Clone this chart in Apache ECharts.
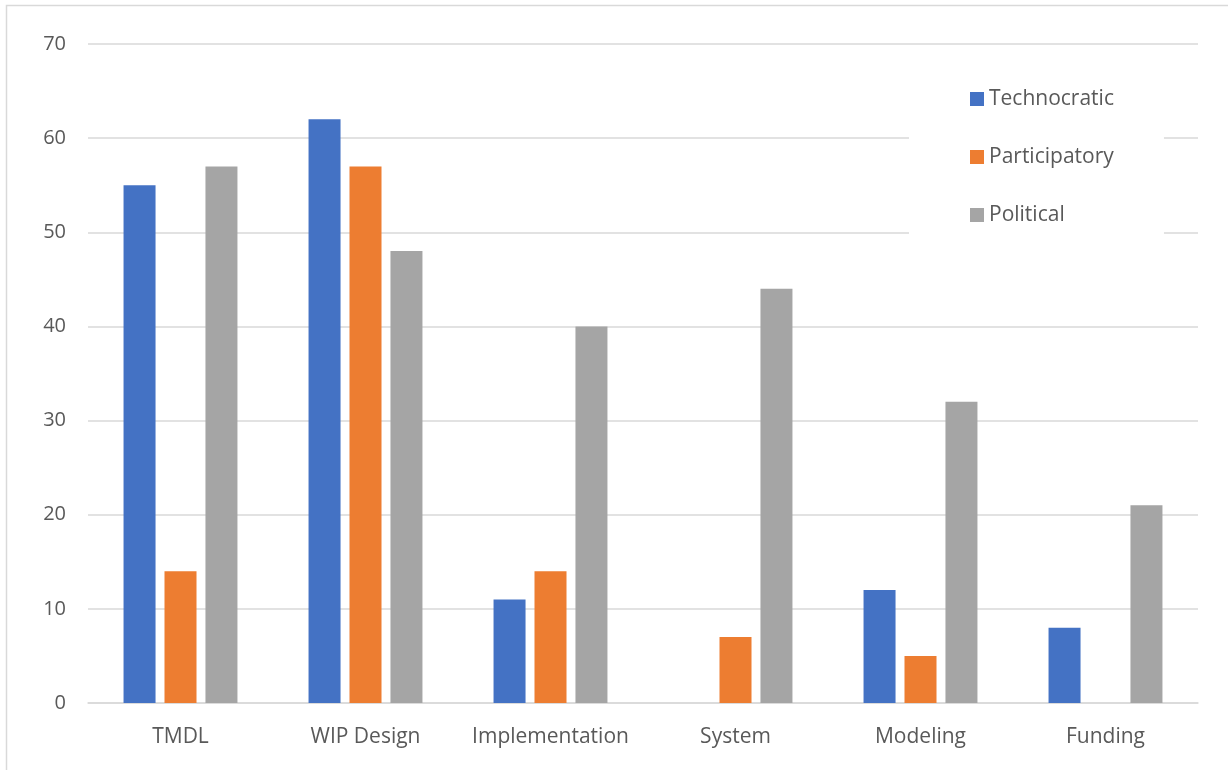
<!DOCTYPE html>
<html>
<head>
<meta charset="utf-8">
<script src="https://cdn.jsdelivr.net/npm/echarts@6/dist/echarts.min.js"></script>
<style>
  html, body { margin: 0; padding: 0; background: #fff; }
  #chart { width: 1228px; height: 770px; }
</style>
</head>
<body>
<div id="chart"></div>
<script>
// Categories of decision-making and counts per approach
const categories = ['TMDL', 'WIP Design', 'Implementation', 'System', 'Modeling', 'Funding'];
const technocratic = [55, 62, 11, 0, 12, 8];
const participatory = [14, 57, 14, 7, 5, 0];
const political = [57, 48, 40, 44, 32, 21];
const yTicks = { min: 0, max: 70, interval: 10 };

const FONT = '"Open Sans", "Noto Sans", sans-serif';
const TEXT = '#595959';

const chart = echarts.init(document.getElementById('chart'), null, { renderer: 'canvas' });

function barSeries(name, data, color) {
  return {
    name: name,
    type: 'bar',
    data: data,
    barWidth: 32,
    barGap: '28%',
    itemStyle: { color: color },
    emphasis: { disabled: true }
  };
}

chart.setOption({
  animation: false,
  backgroundColor: '#fff',
  graphic: [{
    type: 'rect',
    shape: { x: 6.5, y: 5.5, width: 1240, height: 800 },
    style: { fill: 'none', stroke: '#d9d9d9', lineWidth: 1.5 },
    silent: true,
    z: -1
  }],
  grid: { left: 88, right: 30, top: 44, bottom: 67 },
  legend: {
    orient: 'vertical',
    left: 909,
    top: 61,
    padding: [26, 50, 34, 61],
    backgroundColor: '#fff',
    itemWidth: 14,
    itemHeight: 14,
    itemGap: 34,
    icon: 'rect',
    z: 10,
    textStyle: { color: TEXT, fontFamily: FONT, fontSize: 21, lineHeight: 24 },
    data: ['Technocratic', 'Participatory', 'Political']
  },
  xAxis: {
    type: 'category',
    data: categories,
    axisLine: { show: true, lineStyle: { color: '#d9d9d9', width: 1.5 } },
    axisTick: { show: false },
    axisLabel: { color: TEXT, fontFamily: FONT, fontSize: 21, margin: 24, interval: 0, hideOverlap: false }
  },
  yAxis: {
    type: 'value',
    min: yTicks.min,
    max: yTicks.max,
    interval: yTicks.interval,
    axisLine: { show: false },
    axisTick: { show: false },
    splitLine: { lineStyle: { color: '#d9d9d9', width: 1.5 } },
    axisLabel: { color: TEXT, fontFamily: FONT, fontSize: 20, margin: 22 }
  },
  series: [
    barSeries('Technocratic', technocratic, '#4472c4'),
    barSeries('Participatory', participatory, '#ed7d31'),
    barSeries('Political', political, '#a5a5a5')
  ]
});
</script>
</body>
</html>
